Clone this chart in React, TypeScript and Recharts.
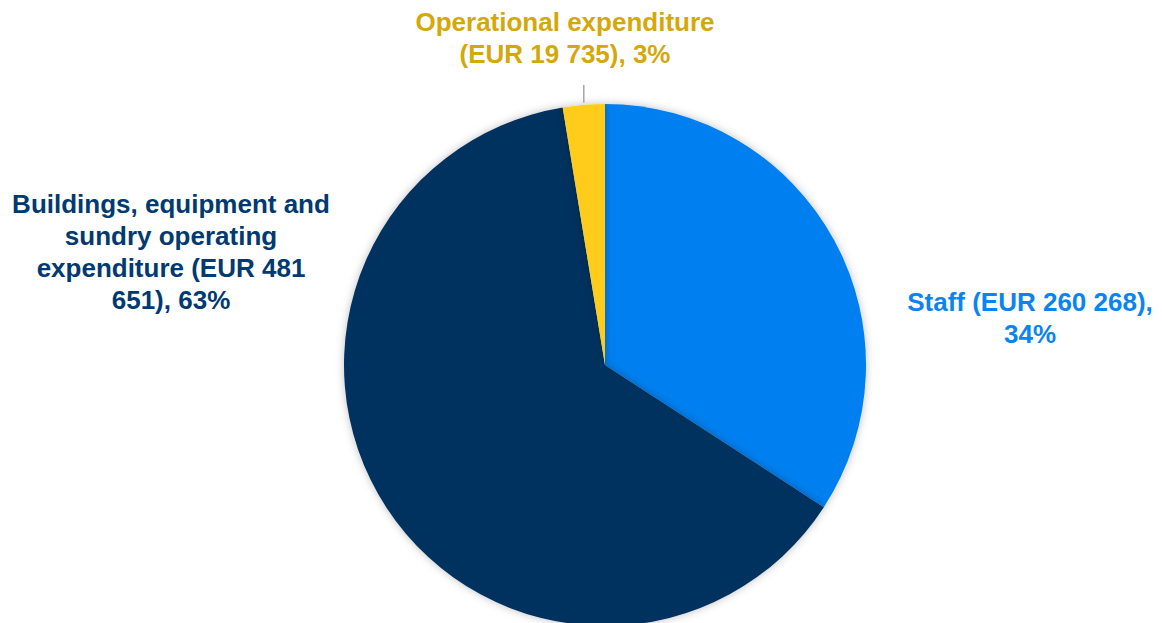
import React from 'react'
import { PieChart, Pie, Cell } from 'recharts'

const categories = ['Staff', 'Buildings, equipment and sundry operating expenditure', 'Operational expenditure']
const values = [260268, 481651, 19735]
const sliceColors = ['#0080F0', '#00335F', '#FFCC1A']
const textColors = ['#0A84F0', '#003A70', '#D4A80A']
const labelLines = [
  ['Staff (EUR 260 268),', '34%'],
  ['Buildings, equipment and', 'sundry operating', 'expenditure (EUR 481', '651), 63%'],
  ['Operational expenditure', '(EUR 19 735), 3%'],
]

// label anchor offsets from pie centre (first baseline)
const labelPos = [
  { dx: 425, dy: -54 },
  { dx: -434, dy: -152 },
  { dx: -40, dy: -334 },
]

const data = categories.map((name, i) => ({ name, value: values[i] }))

const renderLabel = (props: any) => {
  const { cx, cy, index } = props
  const p = labelPos[index]
  return (
    <text
      x={cx + p.dx}
      y={cy + p.dy}
      textAnchor="middle"
      fill={textColors[index]}
      fontFamily="'Liberation Sans', Arial, sans-serif"
      fontWeight="bold"
      fontSize={26}
    >
      {labelLines[index].map((l, j) => (
        <tspan key={j} x={cx + p.dx} dy={j === 0 ? 0 : 32}>{l}</tspan>
      ))}
    </text>
  )
}

const renderLine = (props: any) => {
  const { index, points } = props
  if (index !== 2) return <g />
  const x = points[0].x
  return <line x1={x} y1={points[0].y - 2} x2={x} y2={85} stroke="#A6A6A6" strokeWidth={1.5} />
}

export default function App() {
  return (
    <div style={{ position: 'absolute', left: 0, top: 0, background: '#fff' }}>
      <PieChart width={1162} height={623} margin={{ top: 0, right: 0, bottom: 0, left: 0 }}>
        <defs>
          <filter id="sh" x="-10%" y="-10%" width="120%" height="120%">
            <feDropShadow dx="0" dy="0" stdDeviation="4" floodColor="#000" floodOpacity="0.25" />
          </filter>
        </defs>
        <Pie
          data={data}
          dataKey="value"
          cx={605}
          cy={365}
          outerRadius={261}
          startAngle={90}
          endAngle={-270}
          stroke="none"
          label={renderLabel}
          labelLine={renderLine}
          isAnimationActive={false}
          style={{ filter: 'url(#sh)' }}
        >
          {data.map((d, i) => (
            <Cell key={d.name} fill={sliceColors[i]} />
          ))}
        </Pie>
      </PieChart>
    </div>
  )
}
